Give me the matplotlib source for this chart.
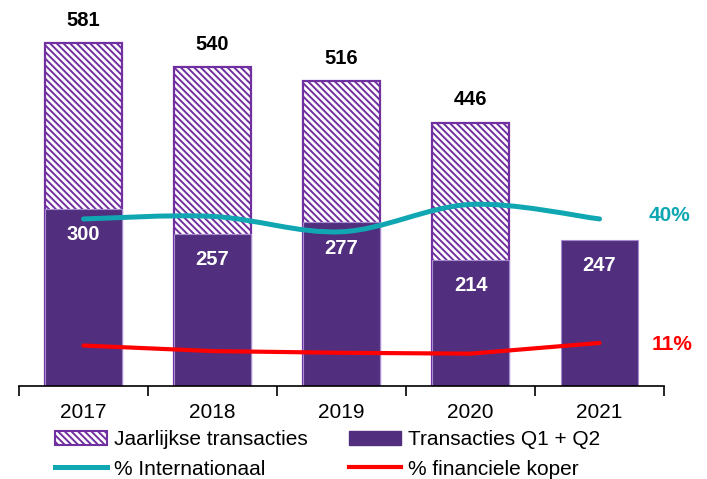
import numpy as np
import matplotlib.pyplot as plt
from matplotlib.path import Path
from matplotlib.patches import PathPatch, Patch
from matplotlib.lines import Line2D

plt.rcParams['font.family'] = ['Liberation Sans', 'DejaVu Sans']
plt.rcParams['hatch.linewidth'] = 1.4

jaren = ['2017', '2018', '2019', '2020', '2021']
jaarlijks = [581, 540, 516, 446, None]
q1q2 = [300, 257, 277, 214, 247]
internationaal = [40.0, 40.6, 37.0, 43.4, 40.0]
financieel = [10.4, 9.1, 8.7, 8.5, 11.0]

paars = '#512F7E'
paars_rand = '#7030A0'
teal = '#10A7B3'
rood = '#FF0000'
arcering = '\\' * 5


def smooth_path(xs, ys):
    # bezier door de punten (zoals een "vloeiende lijn" in Excel)
    pts = np.column_stack([xs, ys])
    verts = [pts[0]]
    codes = [Path.MOVETO]
    n = len(pts)
    for i in range(n - 1):
        p0 = pts[max(i - 1, 0)]
        p1 = pts[i]
        p2 = pts[i + 1]
        p3 = pts[min(i + 2, n - 1)]
        c1 = p1 + (p2 - p0) / 6
        c2 = p2 - (p3 - p1) / 6
        verts += [c1, c2, p2]
        codes += [Path.CURVE4] * 3
    return Path(verts, codes)


fig = plt.figure(figsize=(7.07, 4.79), dpi=100)
ax = fig.add_axes([0.0269, 0.1942, 0.9123, 0.8058])
x = np.arange(len(jaren))
breedte = 0.59

jx = [i for i, v in enumerate(jaarlijks) if v is not None]
jv = [v for v in jaarlijks if v is not None]
ax.bar(jx, jv, breedte, facecolor='white', edgecolor=paars_rand,
       hatch=arcering, linewidth=1.6)
ax.bar(x, q1q2, breedte, facecolor=paars, edgecolor='#A68BD0', linewidth=0.8)

for i, v in zip(jx, jv):
    ax.annotate(str(v), (i, v), xytext=(0, 16.5), textcoords='offset points',
                ha='center', va='center', fontsize=14.5, fontweight='bold')
for i, v in enumerate(q1q2):
    ax.annotate(str(v), (i, v), xytext=(0, -18.5), textcoords='offset points',
                ha='center', va='center', fontsize=14.5, fontweight='bold',
                color='white')

ax.set_xlim(-0.5, 4.5)
ax.set_ylim(0, 654)
ax.set_xticks(np.arange(-0.5, 5, 1))
ax.set_xticklabels([])
ax.set_xticks(x, minor=True)
ax.set_xticklabels(jaren, minor=True, fontsize=15)
ax.tick_params(axis='x', which='major', length=7, width=1.2, direction='out')
ax.tick_params(axis='x', which='minor', length=0, pad=12.5)
ax.set_yticks([])
for s in ['left', 'right', 'top']:
    ax.spines[s].set_visible(False)
ax.spines['bottom'].set_linewidth(1.2)

ax2 = ax.twinx()
ax2.set_ylim(0.94, 91.2)
ax2.set_yticks([])
for s in ['left', 'right', 'top', 'bottom']:
    ax2.spines[s].set_visible(False)

ax2.add_patch(PathPatch(smooth_path(x, internationaal), fill=False,
                        edgecolor=teal, linewidth=3.6, capstyle='round'))
ax2.plot(x, financieel, color=rood, linewidth=3.0, solid_capstyle='round')

ax2.text(4.546, 40.7, '40%', color=teal, fontsize=15, fontweight='bold',
         ha='center', va='center')
ax2.text(4.56, 10.6, '11%', color=rood, fontsize=15, fontweight='bold',
         ha='center', va='center')

handles = [
    Patch(facecolor='white', edgecolor=paars_rand, hatch=arcering, linewidth=1.5),
    Line2D([], [], color=teal, linewidth=3.6),
    Patch(facecolor=paars, edgecolor=paars),
    Line2D([], [], color=rood, linewidth=3.0),
]
labels = ['Jaarlijkse transacties', '% Internationaal',
          'Transacties Q1 + Q2', '% financiele koper']
fig.legend(handles, labels, ncol=2, frameon=False, fontsize=15,
           loc='upper left', bbox_to_anchor=(0.078, 0.102),
           borderpad=0, borderaxespad=0, handlelength=2.5,
           handletextpad=0.32, columnspacing=2.0, labelspacing=0.5)

fig.savefig('out.png', dpi=100)
